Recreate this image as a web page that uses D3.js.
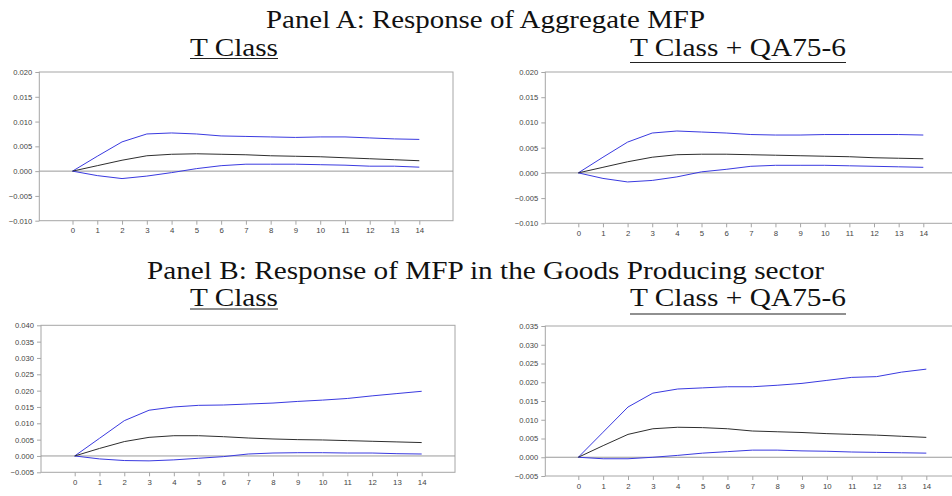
<!DOCTYPE html>
<html>
<head>
<meta charset="utf-8">
<script src="https://cdn.jsdelivr.net/npm/d3@7"></script>
<style>
  html, body { margin: 0; padding: 0; background: #fff; }
  svg { display: block; }
</style>
</head>
<body>
<svg id="chart" width="952" height="496"></svg>
<script>
// ---------- DATA ----------
const periods = [0,1,2,3,4,5,6,7,8,9,10,11,12,13,14];

const panelTitles = ["Panel A: Response of Aggregate MFP",
                     "Panel B: Response of MFP in the Goods Producing sector"];
const subTitles = ["T Class", "T Class + QA75-6"];

// Panel A, T Class
const aLeftUpper  = [0, 0.0030, 0.0059, 0.0075, 0.0077, 0.0075, 0.0071, 0.0070, 0.0069, 0.0068, 0.0069, 0.0069, 0.0067, 0.0065, 0.0064];
const aLeftMid    = [0, 0.0011, 0.0022, 0.0031, 0.0034, 0.0035, 0.0034, 0.0033, 0.0031, 0.0030, 0.0029, 0.0027, 0.0025, 0.0023, 0.0021];
const aLeftLower  = [0, -0.0009, -0.0015, -0.0010, -0.0003, 0.0005, 0.0011, 0.0014, 0.0014, 0.0014, 0.0013, 0.0012, 0.0010, 0.0010, 0.0008];
// Panel A, T Class + QA75-6
const aRightUpper = [0, 0.0031, 0.0061, 0.0079, 0.0083, 0.0081, 0.0079, 0.0076, 0.0075, 0.0075, 0.0076, 0.0076, 0.0076, 0.0076, 0.0075];
const aRightMid   = [0, 0.0011, 0.0022, 0.0031, 0.0036, 0.0037, 0.0037, 0.0036, 0.0035, 0.0034, 0.0033, 0.0032, 0.0030, 0.0029, 0.0028];
const aRightLower = [0, -0.0011, -0.0018, -0.0015, -0.0008, 0.0002, 0.0007, 0.0013, 0.0015, 0.0015, 0.0015, 0.0014, 0.0013, 0.0012, 0.0011];
// Panel B, T Class
const bLeftUpper  = [0, 0.0054, 0.0108, 0.0140, 0.0150, 0.0155, 0.0156, 0.0159, 0.0162, 0.0167, 0.0171, 0.0176, 0.0184, 0.0191, 0.0198];
const bLeftMid    = [0, 0.0023, 0.0044, 0.0057, 0.0062, 0.0062, 0.0059, 0.0055, 0.0052, 0.0050, 0.0049, 0.0047, 0.0045, 0.0043, 0.0041];
const bLeftLower  = [0, -0.0009, -0.0014, -0.0015, -0.0012, -0.0007, -0.0002, 0.0006, 0.0009, 0.0010, 0.0010, 0.0009, 0.0009, 0.0007, 0.0006];
// Panel B, T Class + QA75-6
const bRightUpper = [0, 0.0067, 0.0134, 0.0171, 0.0182, 0.0185, 0.0188, 0.0188, 0.0192, 0.0197, 0.0205, 0.0213, 0.0215, 0.0227, 0.0235];
const bRightMid   = [0, 0.0031, 0.0061, 0.0076, 0.0080, 0.0079, 0.0076, 0.0070, 0.0068, 0.0066, 0.0063, 0.0061, 0.0059, 0.0056, 0.0053];
const bRightLower = [0, -0.0004, -0.0004, 0.0000, 0.0005, 0.0011, 0.0015, 0.0019, 0.0019, 0.0017, 0.0016, 0.0014, 0.0013, 0.0012, 0.0011];

// Tick labels
const yTicksA  = [-0.010, -0.005, 0.000, 0.005, 0.010, 0.015, 0.020];
const yTicksBL = [-0.005, 0.000, 0.005, 0.010, 0.015, 0.020, 0.025, 0.030, 0.035, 0.040];
const yTicksBR = [-0.005, 0.000, 0.005, 0.010, 0.015, 0.020, 0.025, 0.030, 0.035];

// ---------- LAYOUT ----------
const svg = d3.select("#chart");
const BLUE = "#3a3ae0", DARK = "#2e2e2e", FRAME = "#a6a6a6", TICKTXT = "#444";

const panels = [
  { left: 39.3, top: 72,    right: 453,   bottom: 220.7, x0: 72.5,  x14: 419.3, yDom: [-0.010, 0.020], ticks: yTicksA,  upper: aLeftUpper,  mid: aLeftMid,  lower: aLeftLower },
  { left: 545.3, top: 72,   right: 957,   bottom: 223.3, x0: 578.3, x14: 923.3, yDom: [-0.010, 0.020], ticks: yTicksA,  upper: aRightUpper, mid: aRightMid, lower: aRightLower },
  { left: 41,   top: 325.3, right: 455,   bottom: 472.3, x0: 74.7,  x14: 421.7, yDom: [-0.005, 0.040], ticks: yTicksBL, upper: bLeftUpper,  mid: bLeftMid,  lower: bLeftLower },
  { left: 545.3, top: 326,  right: 960,   bottom: 476,   x0: 578.3, x14: 926.3, yDom: [-0.005, 0.035], ticks: yTicksBR, upper: bRightUpper, mid: bRightMid, lower: bRightLower }
];

panels.forEach(p => {
  const g = svg.append("g");
  const x = d3.scaleLinear().domain([0, 14]).range([p.x0, p.x14]);
  const y = d3.scaleLinear().domain(p.yDom).range([p.bottom, p.top]);

  // frame
  g.append("rect")
    .attr("x", p.left).attr("y", p.top)
    .attr("width", p.right - p.left).attr("height", p.bottom - p.top)
    .attr("fill", "none").attr("stroke", FRAME).attr("stroke-width", 1);

  // zero line
  g.append("line")
    .attr("x1", p.left).attr("x2", p.right)
    .attr("y1", y(0)).attr("y2", y(0))
    .attr("stroke", "#9a9a9a").attr("stroke-width", 1);

  // y axis
  const yAxis = d3.axisLeft(y).tickValues(p.ticks).tickSize(4).tickPadding(3)
    .tickFormat(d3.format(".3f"));
  const ya = g.append("g").attr("transform", `translate(${p.left},0)`).call(yAxis);
  ya.select(".domain").remove();
  ya.selectAll("line").attr("stroke", FRAME);
  ya.selectAll("text").attr("fill", TICKTXT)
    .style("font-family", "'Liberation Sans', Arial, sans-serif").style("font-size", "7.6px");

  // x axis
  const xAxis = d3.axisBottom(x).tickValues(periods).tickSize(4).tickPadding(3)
    .tickFormat(d3.format("d"));
  const xa = g.append("g").attr("transform", `translate(0,${p.bottom})`).call(xAxis);
  xa.select(".domain").remove();
  xa.selectAll("line").attr("stroke", FRAME);
  xa.selectAll("text").attr("fill", TICKTXT)
    .style("font-family", "'Liberation Sans', Arial, sans-serif").style("font-size", "7.8px");

  const line = d3.line().x((d, i) => x(periods[i])).y(d => y(d));
  [[p.upper, BLUE], [p.lower, BLUE], [p.mid, DARK]].forEach(([arr, c]) => {
    g.append("path").datum(arr).attr("d", line)
      .attr("fill", "none").attr("stroke", c).attr("stroke-width", 1);
  });
});

// ---------- TITLES ----------
const serif = "'Liberation Serif', 'Times New Roman', serif";
function title(txt, x1, x2, base, under) {
  svg.append("text").text(txt)
    .attr("x", x1).attr("y", base)
    .attr("textLength", x2 - x1).attr("lengthAdjust", "spacingAndGlyphs")
    .style("font-family", serif).style("font-size", "24.5px").attr("fill", "#111");
  if (under !== undefined) {
    svg.append("line").attr("x1", x1).attr("x2", x2)
      .attr("y1", under).attr("y2", under)
      .attr("stroke", "#222").attr("stroke-width", 1.2);
  }
}
title(panelTitles[0], 266, 705, 27.5);
title(subTitles[0], 190, 278, 56, 58.5);
title(subTitles[1], 630, 846, 56, 62.5);
title(panelTitles[1], 147, 824, 278.5);
title(subTitles[0], 190, 278, 305.5, 309);
title(subTitles[1], 630, 846, 305.5, 314);
</script>
</body>
</html>
